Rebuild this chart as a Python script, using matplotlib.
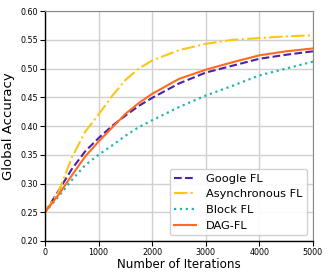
import matplotlib
matplotlib.use("Agg")
import matplotlib.pyplot as plt

iterations = [0, 250, 500, 750, 1000, 1250, 1500, 1750, 2000, 2500, 3000, 3500, 4000, 4500, 5000]
google_fl = [0.25, 0.287, 0.325, 0.356, 0.379, 0.400, 0.418, 0.435, 0.449, 0.474, 0.493, 0.505, 0.517, 0.524, 0.530]
async_fl = [0.25, 0.285, 0.345, 0.390, 0.420, 0.452, 0.480, 0.500, 0.514, 0.532, 0.543, 0.550, 0.553, 0.556, 0.558]
block_fl = [0.25, 0.277, 0.306, 0.332, 0.350, 0.366, 0.383, 0.398, 0.410, 0.433, 0.453, 0.470, 0.488, 0.500, 0.512]
dag_fl = [0.25, 0.280, 0.314, 0.347, 0.373, 0.397, 0.421, 0.440, 0.456, 0.482, 0.498, 0.511, 0.523, 0.530, 0.535]


def main():
    fig = plt.figure(figsize=(3.32, 2.77), dpi=100)
    ax = fig.add_axes([0.1355, 0.130, 0.807, 0.830])

    ax.plot(iterations, google_fl, "--", color="#4a22a8", lw=1.5, label="Google FL")
    ax.plot(iterations, async_fl, "-.", color="#ffc510", lw=1.5, label="Asynchronous FL")
    ax.plot(iterations, block_fl, ":", color="#22b5b0", lw=1.6, label="Block FL")
    ax.plot(iterations, dag_fl, "-", color="#ff6a1f", lw=1.5, label="DAG-FL")

    ax.set_xlim(0, 5000)
    ax.set_ylim(0.2, 0.6)
    ax.set_xticks(range(0, 5001, 1000))
    ax.set_yticks([0.20, 0.25, 0.30, 0.35, 0.40, 0.45, 0.50, 0.55, 0.60])
    ax.set_yticklabels(["%.2f" % v for v in ax.get_yticks()])
    ax.tick_params(labelsize=5.8, length=3.5, width=0.8, pad=1.5)
    ax.grid(True, color="#d0d0d0", lw=1)
    ax.set_axisbelow(True)

    for side in ["top", "right"]:
        ax.spines[side].set_color("#888888")
    for side in ["left", "bottom"]:
        ax.spines[side].set_color("black")
        ax.spines[side].set_linewidth(1.0)

    ax.set_xlabel("Number of Iterations", fontsize=8.6, labelpad=1)
    ax.set_ylabel("Global Accuracy", fontsize=9.5, labelpad=4)
    ax.legend(loc="lower right", fontsize=8.2, handlelength=1.9, framealpha=0.9,
              borderpad=0.4, labelspacing=0.5, handletextpad=0.9)

    fig.savefig("out.png", dpi=100)


if __name__ == "__main__":
    main()
